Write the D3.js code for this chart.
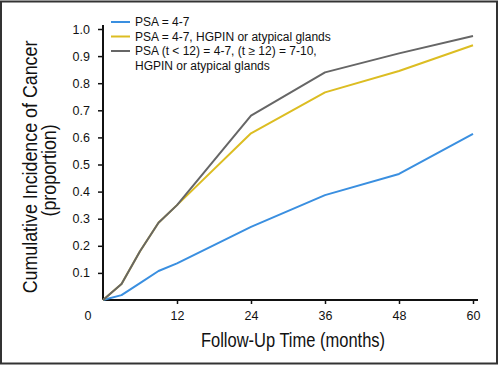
<!DOCTYPE html>
<html>
<head>
<meta charset="utf-8">
<script src="https://cdn.jsdelivr.net/npm/d3@7"></script>
<style>
  body { margin: 0; background: #fff; }
  .legend text { font-family: "Liberation Sans", Arial, sans-serif; font-size: 12px; fill: #111; }
  .axis-title { font-family: "Liberation Sans", Arial, sans-serif; fill: #111; }
</style>
</head>
<body>
<svg width="500" height="366"></svg>
<script>
const svg = d3.select('svg');

const width = +svg.attr('width');
const height = +svg.attr('height');

// data (months, cumulative proportion)
const months = [0, 3, 6, 9, 12, 24, 36, 48, 60];
const psa47 = [0, 0.018, 0.062, 0.107, 0.135, 0.27, 0.387, 0.465, 0.613];
const psaHgpin = [0, 0.059, 0.18, 0.285, 0.35, 0.615, 0.766, 0.845, 0.94];
const psaTime = [0, 0.059, 0.18, 0.285, 0.35, 0.68, 0.84, 0.91, 0.974];

const xTicks = [12, 24, 36, 48, 60];
const yTicks = [0.1, 0.2, 0.3, 0.4, 0.5, 0.6, 0.7, 0.8, 0.9, 1.0];

const seriesNames = [
	['PSA = 4-7'],
	['PSA = 4-7, HGPIN or atypical glands'],
	['PSA (t < 12) = 4-7, (t \u2265 12) = 7-10,', 'HGPIN or atypical glands']
];
const seriesValues = [psa47, psaHgpin, psaTime];
const colors = ['#3a8fe0', '#dcbd22', '#666666'];

const margin = {top: 29, right: 27, bottom: 66, left: 103};
const innerWidth = width - margin.left - margin.right;
const innerHeight = height - margin.top - margin.bottom;

const xScale = d3.scaleLinear().domain([0, 60]).range([0, innerWidth]);
const yScale = d3.scaleLinear().domain([0, 1]).range([innerHeight, 0]);

// frame
svg.append('rect')
	.attr('x', 1).attr('y', 1.5)
	.attr('width', width - 4).attr('height', height - 4)
	.attr('fill', 'none')
	.attr('stroke', '#333')
	.attr('stroke-width', 2);

const g = svg.append('g')
	.attr('transform', `translate(${margin.left}, ${margin.top})`);

const styleAxis = sel => {
	sel.select('.domain').remove();
	sel.attr('font-family', '"Liberation Sans", Arial, sans-serif').attr('font-size', 12.5);
	sel.selectAll('.tick line').attr('stroke', '#111').attr('stroke-width', 1.5);
	sel.selectAll('.tick text').attr('fill', '#111');
};

const xAxisG = g.append('g')
	.attr('transform', `translate(0, ${innerHeight})`)
	.call(d3.axisBottom(xScale).tickValues(xTicks).tickSize(4).tickPadding(7))
	.call(styleAxis);

const yAxisG = g.append('g')
	.call(d3.axisLeft(yScale).tickValues(yTicks).tickFormat(d3.format('.1f')).tickSize(5).tickPadding(8))
	.call(styleAxis);

// axis lines, extended a little past the last ticks
g.append('line')
	.attr('x1', xScale(0)).attr('x2', xScale(60) + 5)
	.attr('y1', yScale(0)).attr('y2', yScale(0))
	.attr('stroke', '#111').attr('stroke-width', 2);
g.append('line')
	.attr('x1', xScale(0)).attr('x2', xScale(0))
	.attr('y1', yScale(0)).attr('y2', yScale(1) - 4)
	.attr('stroke', '#111').attr('stroke-width', 2);

// shared origin label
g.append('text')
	.attr('x', xScale(0) - 15)
	.attr('y', yScale(0) + 11)
	.attr('dy', '0.71em')
	.attr('text-anchor', 'middle')
	.attr('font-family', '"Liberation Sans", Arial, sans-serif')
	.attr('font-size', 12.5)
	.attr('fill', '#111')
	.text('0');

// lines
const line = d3.line()
	.x((d, i) => xScale(months[i]))
	.y(d => yScale(d));

seriesValues.forEach((vals, i) => {
	g.append('path')
		.datum(vals)
		.attr('d', line)
		.attr('fill', 'none')
		.attr('stroke', colors[i])
		.attr('stroke-width', 2)
		.attr('stroke-linejoin', 'round');
});

// legend
const legend = svg.append('g').attr('class', 'legend');
let ly = 22;
seriesNames.forEach((lines, i) => {
	legend.append('line')
		.attr('x1', 111).attr('x2', 130)
		.attr('y1', ly).attr('y2', ly)
		.attr('stroke', colors[i]).attr('stroke-width', 2);
	lines.forEach((t, j) => {
		legend.append('text')
			.attr('x', 135)
			.attr('y', ly + j * 14.5)
			.attr('dy', '0.35em')
			.text(t);
	});
	ly += 14.5 * lines.length;
});

// axis titles (condensed look via horizontal scaling)
svg.append('text')
	.attr('class', 'axis-title')
	.attr('transform', `translate(${margin.left + xScale(30) + 5}, 347) scale(0.825, 1)`)
	.attr('text-anchor', 'middle')
	.style('font-size', '20px')
	.text('Follow-Up Time (months)');

const yTitle = svg.append('text')
	.attr('class', 'axis-title')
	.attr('transform', `translate(37, 167) rotate(-90) scale(0.85, 1)`)
	.attr('text-anchor', 'middle')
	.style('font-size', '21px');
yTitle.append('tspan').attr('x', 0).attr('y', 0).text('Cumulative Incidence of Cancer');
yTitle.append('tspan').attr('x', -4).attr('y', 19).text('(proportion)');
</script>
</body>
</html>
